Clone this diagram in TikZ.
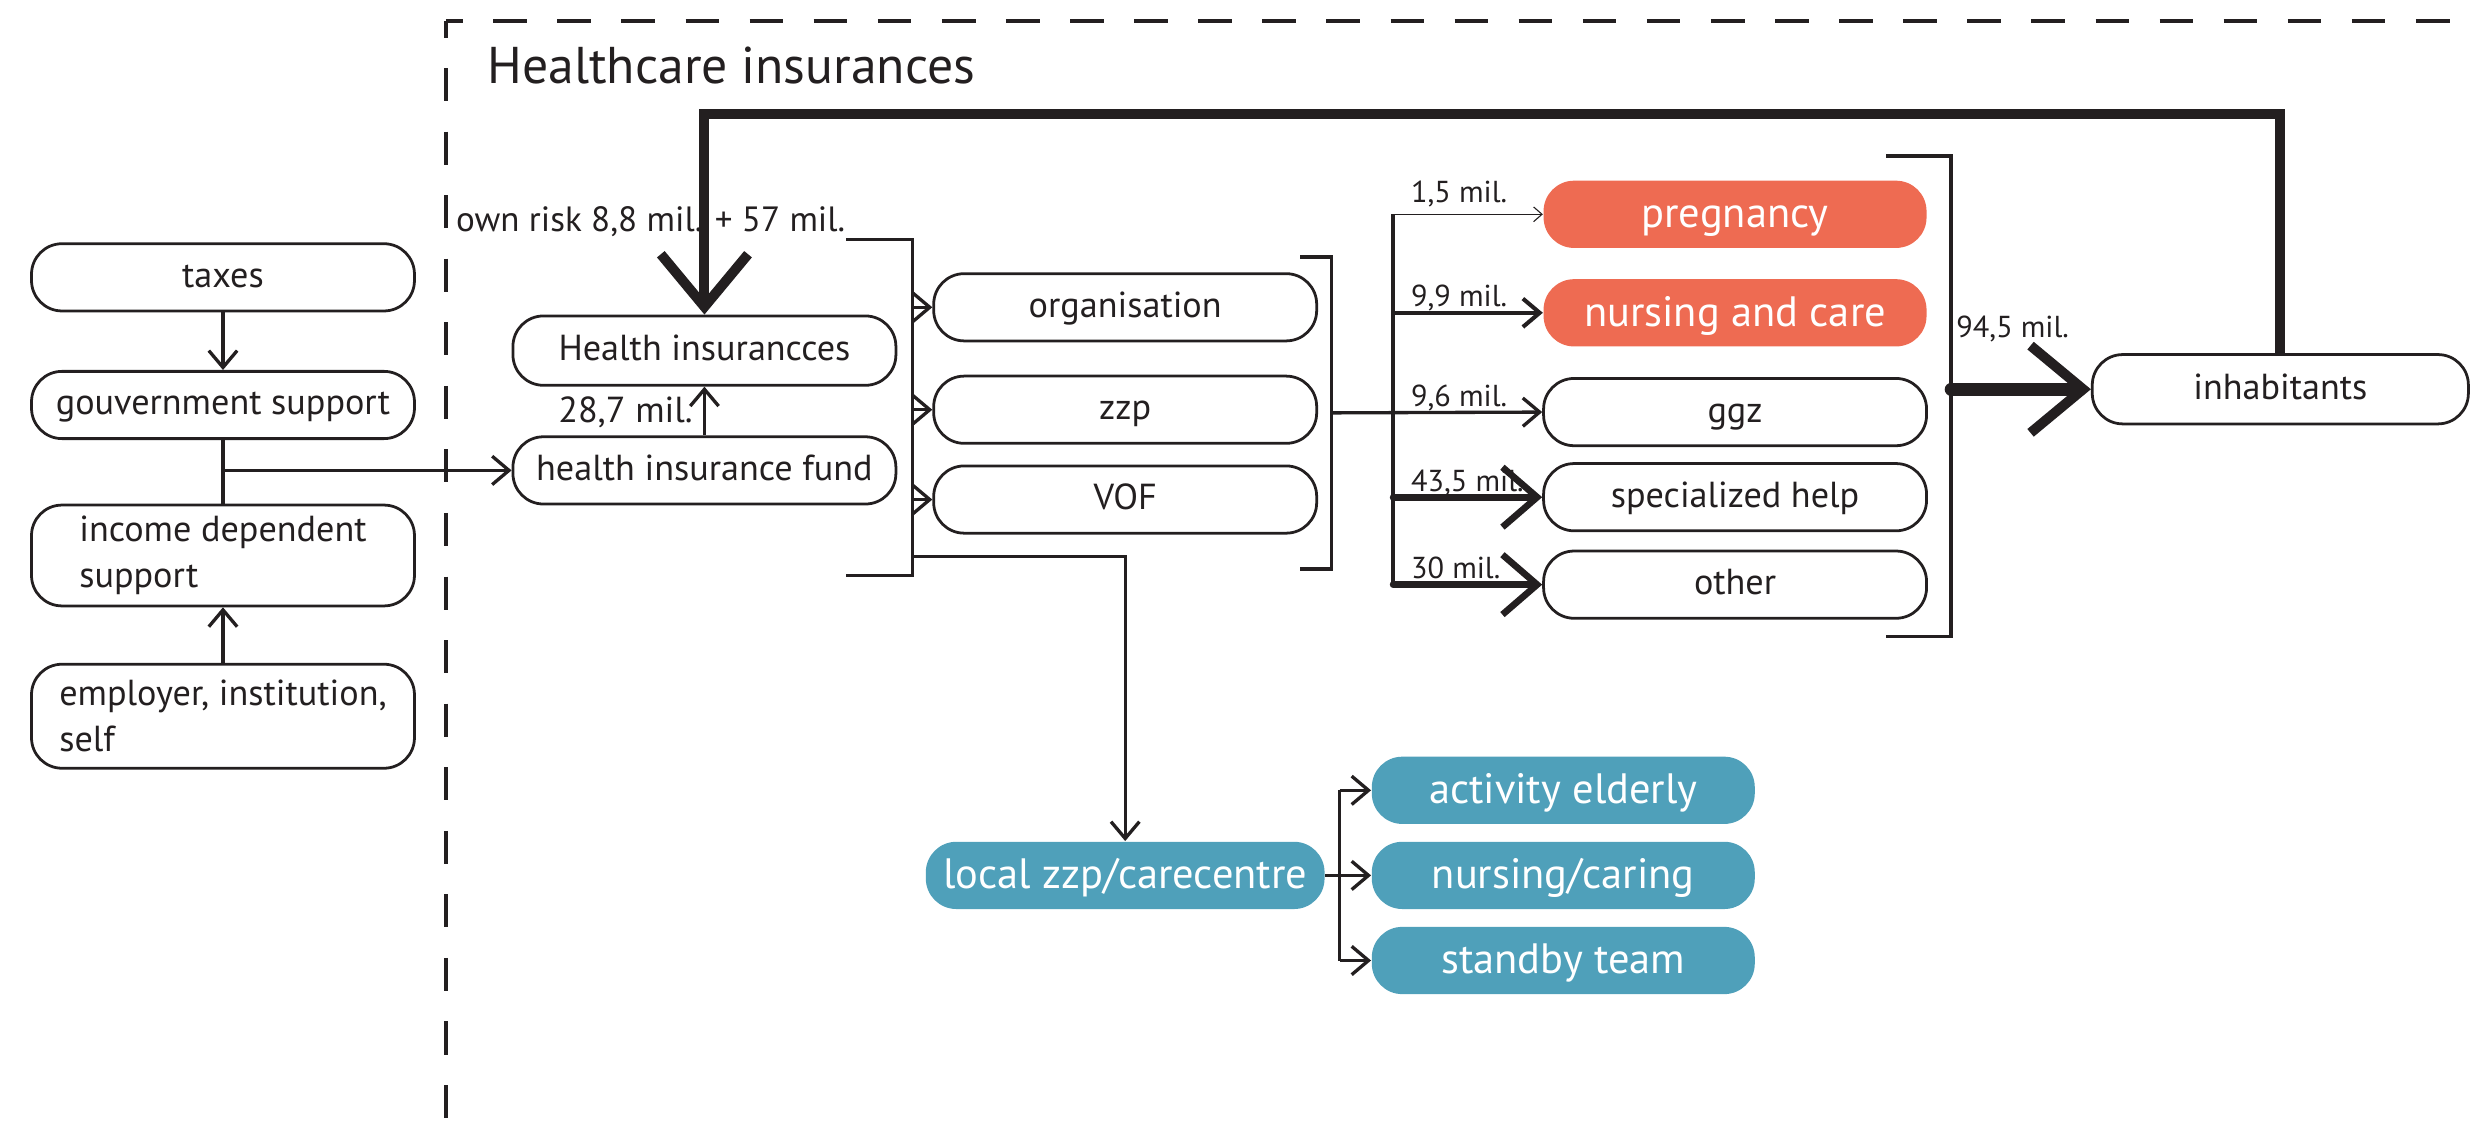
\documentclass[tikz,border=0pt]{standalone}
\usepackage{fontspec}
\setmainfont{PT Sans}
\usetikzlibrary{arrows.meta,calc}
\definecolor{ink}{HTML}{231F20}
\definecolor{coral}{HTML}{EE6B52}
\definecolor{sea}{HTML}{4FA0BA}
\begin{document}
\begin{tikzpicture}[x=0.15mm,y=-0.15mm,
  frame/.style={draw=ink,line width=0.75pt,rounded corners=2.9mm,
    minimum width=36.45mm,minimum height=6.4mm,inner sep=0pt,
    font=\fontsize{9.8}{12.5}\selectfont,text=ink},
  box/.style={frame,text height=0.74em,text depth=0.2em},
  hot/.style={fill=coral,rounded corners=2.9mm,minimum width=36.45mm,
    minimum height=6.4mm,inner sep=0pt,text=white,
    text height=0.82em,text depth=0.1em,
    font=\fontsize{11.5}{14}\selectfont},
  cool/.style={hot,fill=sea},
  conn/.style={draw=ink,line width=0.9pt},
  tipS/.style={-{Straight Barb[length=1.6mm,width=2.7mm]}},
  tipP/.style={-{Straight Barb[length=0.8mm,width=1.4mm]}},
  tipM/.style={-{Straight Barb[length=3.3mm,width=5.7mm]}},
  tipL/.style={-{Straight Barb[length=5mm,width=8.3mm,line width=2.7pt]}},
  amount/.style={anchor=base west,inner sep=0pt,text=ink,
    font=\fontsize{8.2}{10}\selectfont},
]
\useasboundingbox (0,0) rectangle (1568,723);

% dashed frame of the insurance domain
\draw[ink,line width=1.05pt,dash pattern=on 3.2mm off 2.9mm,dash phase=1.6mm]
  (283,13.5) -- (1570,13.5);
\draw[ink,line width=0.9pt,dash pattern=on 3.15mm off 2.9mm,dash phase=1.6mm]
  (283,13.5) -- (283,725);
\node[anchor=base west,inner sep=0pt,text=ink,font=\fontsize{14}{16}\selectfont]
  (title) at (309,53) {Healthcare insurances};

% left column: sources of money
\node[box] (taxes) at (141.5,176) {taxes};
\node[box] (gov) at (141.5,257) {gouvernment support};
\node[frame,minimum height=9.6mm,align=left]
  (inc) at (141.5,352.5) {income dependent\\support};
\node[frame,minimum height=9.9mm,align=left]
  (emp) at (141.5,454.5) {employer, institution,\\self};

% insurers
\node[box,minimum height=6.6mm] (hi) at (447,222.5) {Health insurancces};
\node[box] (fund) at (447,298.5) {health insurance fund};
\node[anchor=base west,inner sep=0pt,text=ink,font=\fontsize{9.5}{12}\selectfont]
  (risk) at (289,147) {own risk 8,8 mil. + 57 mil.};
\node[anchor=base east,inner sep=0pt,text=ink,font=\fontsize{9.8}{12}\selectfont]
  (fundamt) at (440,268) {28,7 mil.};

% care providers
\node[box] (org) at (714,195) {organisation};
\node[box] (zzp) at (714,260) {zzp};
\node[box] (vof) at (714,317) {VOF};

% kinds of care
\node[hot] (preg) at (1101,136) {pregnancy};
\node[hot] (nurse) at (1101,198.5) {nursing and care};
\node[box] (ggz) at (1101,261.5) {ggz};
\node[box] (spec) at (1101,315.5) {specialized help};
\node[box] (other) at (1101,371) {other};

\node[box,minimum width=35.8mm,minimum height=6.6mm] (inh) at (1447,247) {inhabitants};

% local care
\node[cool,minimum width=37.95mm] (loc) at (714,555.5) {local zzp/carecentre};
\node[cool] (act) at (992,501.5) {activity elderly};
\node[cool] (care) at (992,555.5) {nursing/caring};
\node[cool] (stb) at (992,609.5) {standby team};

% helper points for brackets and branch lines
\coordinate (b1t) at (537,152);
\coordinate (b1b) at (537,365);
\coordinate (b1x) at (579,0);
\coordinate (b1o) at (579,353);
\coordinate (b2t) at (825,163);
\coordinate (b2b) at (825,361);
\coordinate (b2o) at (845,262);
\coordinate (dx) at (884,0);
\coordinate (b3t) at (1197,99);
\coordinate (b3b) at (1197,404);
\coordinate (b3o) at (1238,247);
\coordinate (tx) at (850,0);

% left column flows
\draw[conn,tipS] (taxes) -- (gov);
\draw[conn] (gov) -- (inc);
\draw[conn,tipS] (emp) -- (inc);
\draw[conn,tipS] (gov.south |- fund.west) -- (fund.west);
\draw[conn,tipS] (fund) -- (hi);

% premiums paid by the inhabitants
\draw[ink,line width=2.7pt,line join=miter,tipL] (inh.north) -- ++(0,-152) -| (hi.north);

% bracket of the insurers
\draw[conn] (b1t) -- ++(42,0) |- (b1b);
\draw[conn,tipS] (org.west -| b1x) -- (org.west);
\draw[conn,tipS] (zzp.west -| b1x) -- (zzp.west);
\draw[conn,tipS] (vof.west -| b1x) -- (vof.west);
\draw[conn,tipS] (b1o) -| (loc.north);

% bracket of the providers
\draw[conn] (b2t) -- ++(20,0) |- (b2b);
\draw[conn] (preg.west -| dx) -- (other.west -| dx);
\draw[ink,line width=0.3pt,tipP] (preg.west -| dx) -- (preg.west);
\draw[conn,line width=1.1pt,tipS] (nurse.west -| dx) -- (nurse.west);
\draw[conn,tipS] (b2o) -- (ggz.west);
\draw[ink,line width=1.8pt,line cap=round,tipM] (spec.west -| dx) -- (spec.west);
\draw[ink,line width=1.8pt,line cap=round,tipM] (other.west -| dx) -- (other.west);
\node[amount] (a1) at (895,128.6) {1,5 mil.};
\node[amount] (a2) at (895,194.6) {9,9 mil.};
\node[amount] (a3) at (895,258) {9,6 mil.};
\node[amount] (a4) at (895,312) {43,5 mil.};
\node[amount] (a5) at (895,366.8) {30 mil.};

% bracket of the kinds of care
\draw[conn] (b3t) -- ++(41,0) |- (b3b);
\draw[ink,line width=3.4pt,line cap=round,tipL] (b3o) -- (inh.west);
\node[amount] (a6) at (1241,214) {94,5 mil.};

% local care branches
\draw[conn] (act.west -| tx) -- (stb.west -| tx);
\draw[conn,tipS] (loc.east) -- (care.west);
\draw[conn,tipS] (act.west -| tx) -- (act.west);
\draw[conn,tipS] (stb.west -| tx) -- (stb.west);
\end{tikzpicture}
\end{document}
